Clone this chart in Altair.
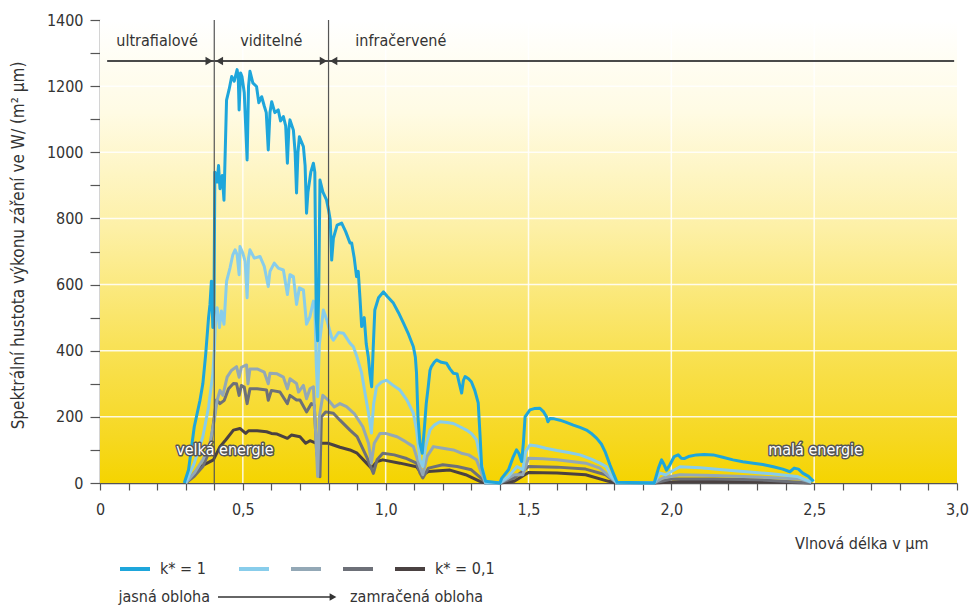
import altair as alt
import pandas as pd

FONT = "DejaVu Sans Condensed"
TXT = "#333333"

# ---------------- data ----------------
wl_k1 = [0.295, 0.31, 0.33, 0.35, 0.36, 0.37, 0.38, 0.385, 0.39, 0.395, 0.399, 0.402, 0.41, 0.415, 0.42,
         0.428, 0.434, 0.443, 0.452, 0.461, 0.47, 0.48, 0.484, 0.487, 0.492, 0.497, 0.505, 0.515, 0.52,
         0.525, 0.535, 0.548, 0.556, 0.566, 0.575, 0.582, 0.589, 0.595, 0.601, 0.612, 0.624, 0.632,
         0.642, 0.65, 0.656, 0.661, 0.665, 0.677, 0.683, 0.688, 0.693, 0.698, 0.712, 0.718, 0.723,
         0.728, 0.738, 0.747, 0.752, 0.757, 0.762, 0.766, 0.77, 0.78, 0.793, 0.80, 0.806, 0.811, 0.817,
         0.83, 0.846, 0.86, 0.875, 0.881, 0.89, 0.898, 0.904, 0.91, 0.916, 0.925, 0.932, 0.939, 0.945,
         0.951, 0.956, 0.962, 0.975, 0.992, 1.005, 1.027, 1.045, 1.062, 1.08, 1.097, 1.104, 1.108,
         1.113, 1.12, 1.128, 1.135, 1.142, 1.149, 1.155, 1.16, 1.17, 1.178, 1.195, 1.213, 1.225, 1.237,
         1.25, 1.258, 1.266, 1.272, 1.278, 1.29, 1.30, 1.312, 1.324, 1.33, 1.336, 1.35, 1.40, 1.406,
         1.43, 1.447, 1.458, 1.466, 1.476, 1.482, 1.488, 1.505, 1.52, 1.54, 1.553, 1.563, 1.568, 1.575,
         1.59, 1.61, 1.63, 1.657, 1.68, 1.703, 1.72, 1.739, 1.755, 1.768, 1.785, 1.797, 1.81, 1.94,
         1.955, 1.966, 1.975, 1.983, 1.995, 2.01, 2.024, 2.035, 2.045, 2.06, 2.088, 2.115, 2.147, 2.18,
         2.216, 2.25, 2.287, 2.32, 2.357, 2.39, 2.415, 2.43, 2.445, 2.46, 2.48, 2.498]
val_k1 = [0, 40, 170, 250, 300, 390, 500, 540, 610, 470, 520, 940, 910, 960, 890,
          930, 855, 1158, 1190, 1229, 1215, 1250, 1225, 1128, 1240, 1229, 1180, 977, 1200,
          1245, 1210, 1199, 1150, 1168, 1140, 1120, 1007, 1120, 1153, 1120, 1128, 1095,
          1108, 1080, 967, 1070, 1098, 1067, 1000, 877, 1000, 1047, 1017, 960, 816,
          880, 940, 967, 940, 500, 430, 600, 916, 880, 856, 826, 795, 674, 740,
          780, 786, 760, 726, 726, 680, 624, 640, 560, 473, 500, 420, 382, 330,
          291, 400, 523, 560, 578, 565, 544, 515, 484, 450, 412, 380, 332,
          200, 120, 90, 160, 240, 291, 340, 352, 365, 372, 365, 362, 345, 332,
          330, 300, 272, 310, 322, 315, 306, 280, 242, 150, 49, 5, 0, 14,
          40, 80, 100, 90, 65, 120, 200, 221, 225, 226, 215, 200, 185, 195,
          194, 190, 184, 175, 168, 160, 150, 135, 118, 95, 55, 29, 2, 0,
          45, 70, 55, 39, 55, 80, 85, 75, 74, 80, 85, 86, 85, 78,
          70, 64, 60, 56, 49, 42, 34, 45, 42, 30, 20, 5]

wl_k2 = [0.30, 0.33, 0.36, 0.38, 0.395, 0.40, 0.405, 0.41, 0.418, 0.425, 0.434, 0.443, 0.455, 0.465,
         0.473, 0.48, 0.487, 0.49, 0.50, 0.508, 0.515, 0.52, 0.525, 0.54, 0.56, 0.575, 0.589, 0.595,
         0.61, 0.624, 0.642, 0.656, 0.665, 0.677, 0.688, 0.698, 0.712, 0.723, 0.735, 0.747, 0.752,
         0.757, 0.762, 0.768, 0.782, 0.795, 0.811, 0.817, 0.835, 0.852, 0.875, 0.887, 0.90, 0.916,
         0.93, 0.94, 0.95, 0.958, 0.968, 0.985, 1.003, 1.025, 1.05, 1.075, 1.097, 1.108, 1.12, 1.13,
         1.14, 1.155, 1.17, 1.19, 1.215, 1.237, 1.26, 1.283, 1.30, 1.318, 1.33, 1.35, 1.40, 1.43,
         1.46, 1.48, 1.49, 1.505, 1.53, 1.56, 1.60, 1.64, 1.68, 1.72, 1.75, 1.773, 1.79, 1.81, 1.94,
         1.96, 1.98, 2.03, 2.10, 2.18, 2.263, 2.35, 2.44, 2.49]
val_k2 = [0, 60, 140, 230, 330, 400, 500, 530, 470, 520, 480, 610, 650, 690,
          705, 690, 630, 715, 695, 670, 560, 680, 705, 680, 685, 655, 594, 640,
          665, 650, 644, 570, 630, 624, 540, 590, 584, 480, 503, 550, 544,
          360, 261, 420, 523, 490, 440, 432, 455, 453, 423, 412, 380, 332,
          260, 211, 151, 240, 291, 305, 311, 296, 281, 250, 211, 160, 70, 50,
          110, 160, 175, 185, 183, 180, 170, 160, 150, 130, 80, 0, 0, 20,
          50, 40, 95, 115, 112, 105, 98, 92, 85, 72, 60, 49, 20, 0, 0,
          30, 25, 49, 46, 40, 34, 28, 20, 3]

wl_k3 = [0.30, 0.33, 0.36, 0.385, 0.40, 0.41, 0.42, 0.43, 0.445, 0.46, 0.478, 0.487, 0.495, 0.513,
         0.518, 0.525, 0.55, 0.575, 0.589, 0.595, 0.62, 0.642, 0.656, 0.665, 0.688, 0.695, 0.712,
         0.723, 0.735, 0.747, 0.755, 0.762, 0.768, 0.78, 0.80, 0.82, 0.84, 0.863, 0.89, 0.92, 0.94,
         0.95, 0.96, 0.98, 1.00, 1.04, 1.07, 1.097, 1.115, 1.13, 1.145, 1.167, 1.20, 1.237, 1.265,
         1.29, 1.318, 1.34, 1.35, 1.40, 1.45, 1.48, 1.50, 1.55, 1.60, 1.65, 1.70, 1.75, 1.79, 1.81,
         1.94, 1.97, 2.03, 2.15, 2.30, 2.45, 2.49]
val_k3 = [0, 30, 70, 120, 190, 250, 280, 265, 320, 340, 352, 320, 350, 357,
          300, 345, 345, 335, 300, 332, 330, 320, 285, 315, 301, 275, 295,
          255, 285, 291, 150, 20, 200, 265, 250, 230, 240, 231, 210, 170, 120,
          60, 120, 150, 150, 140, 125, 110, 60, 25, 80, 110, 105, 100, 90,
          85, 70, 20, 0, 0, 25, 25, 75, 73, 70, 65, 60, 45, 15, 0,
          0, 15, 25, 23, 18, 12, 2]

wl_k4 = [0.30, 0.33, 0.36, 0.385, 0.40, 0.408, 0.42, 0.435, 0.45, 0.467, 0.478, 0.487, 0.495, 0.505,
         0.515, 0.525, 0.55, 0.583, 0.589, 0.60, 0.63, 0.656, 0.665, 0.688, 0.70, 0.723, 0.74, 0.75,
         0.758, 0.77, 0.775, 0.79, 0.817, 0.84, 0.875, 0.90, 0.933, 0.957, 0.97, 0.99, 1.03, 1.07,
         1.108, 1.12, 1.13, 1.15, 1.20, 1.25, 1.30, 1.34, 1.35, 1.40, 1.45, 1.50, 1.60, 1.70, 1.77,
         1.81, 1.94, 2.00, 2.15, 2.30, 2.49]
val_k4 = [0, 20, 50, 100, 200, 251, 240, 250, 285, 301, 300, 265, 295, 290,
          240, 285, 285, 281, 250, 280, 275, 240, 265, 251, 251, 215, 240, 235,
          100, 19, 200, 215, 211, 190, 160, 140, 80, 29, 70, 90, 85, 75,
          60, 30, 15, 45, 55, 50, 40, 10, 0, 0, 15, 50, 48, 42, 25,
          0, 0, 12, 12, 10, 0]

wl_k01 = [0.30, 0.35, 0.397, 0.42, 0.44, 0.467, 0.49, 0.51, 0.52, 0.55, 0.583, 0.60, 0.62, 0.656,
          0.67, 0.70, 0.72, 0.735, 0.758, 0.762, 0.768, 0.80, 0.817, 0.84, 0.875, 0.90, 0.933, 0.95,
          0.97, 0.99, 1.05, 1.108, 1.13, 1.15, 1.225, 1.28, 1.33, 1.35, 1.40, 1.45, 1.50, 1.60, 1.70,
          1.78, 1.81, 1.94, 2.05, 2.30, 2.49]
val_k01 = [0, 49, 70, 110, 130, 160, 165, 150, 158, 158, 155, 150, 148, 135,
           145, 140, 120, 128, 120, 80, 120, 120, 115, 108, 100, 90, 60, 45,
           65, 70, 60, 49, 25, 35, 39, 25, 5, 0, 0, 5, 32, 30, 25,
           5, 0, 0, 5, 4, 0]

series_names = ["k1", "k2", "k3", "k4", "k01"]
series_colors = ["#1ea6db", "#88cdeb", "#93a8b6", "#6d7078", "#4a4141"]
series_wl = [wl_k1, wl_k2, wl_k3, wl_k4, wl_k01]
series_val = [val_k1, val_k2, val_k3, val_k4, val_k01]

region_labels = ["ultrafialové", "viditelné", "infračervené"]
region_x = [0.2, 0.6, 1.053]
region_y = [1335, 1335, 1335]
boundaries = [0.4, 0.8]
arrow_level = 1276
arrow_start, arrow_end = 0.025, 2.99
head_x = [0.382, 0.418, 0.782, 0.818]
head_shape = ["triangle-right", "triangle-left", "triangle-right", "triangle-left"]

energy_labels = ["velká energie", "malá energie"]
energy_x = [0.437, 2.505]
energy_y = [100, 100]

x_grid = [0.5, 1.0, 1.5, 2.0, 2.5]
y_grid = [200, 400, 600, 800, 1000, 1200]
x_ticks = [round(i / 10, 1) for i in range(0, 31)]
y_ticks = list(range(0, 1401, 100))

# ---------------- build ----------------
rows = []
for name, wl, vals in zip(series_names, series_wl, series_val):
    for w, v in zip(wl, vals):
        rows.append({"series": name, "wl": w, "val": v})
df = pd.DataFrame(rows)

W, H = 857, 463
xs = alt.Scale(domain=[0, 3], nice=False, zero=False)
ys = alt.Scale(domain=[0, 1400], nice=False)

xaxis = alt.Axis(
    values=x_ticks, grid=False, domainColor="#555555", domainWidth=1.5,
    tickColor="#555555", tickSize=7, tickWidth=1.2,
    labelExpr="abs(datum.value*2 - round(datum.value*2)) < 0.001 ? (datum.value == 0 ? '0' : replace(format(datum.value, '.1f'), '.', ',')) : ''",
    labelFont=FONT, labelFontSize=16, labelColor=TXT, labelPadding=11, labelFlush=False,
    labelOverlap=False,
    title="Vlnová délka v µm", titleFont=FONT, titleFontSize=16, titleFontWeight="normal",
    titleColor=TXT, titleX=828, titleY=60, titleAlign="right", titleBaseline="middle",
)
yaxis = alt.Axis(
    values=y_ticks, grid=False, domainColor="#555555", domainWidth=1.5,
    tickColor="#555555", tickSize=10, tickWidth=1.2,
    labelExpr="datum.value % 200 == 0 ? format(datum.value, 'd') : ''",
    labelFont=FONT, labelFontSize=16, labelColor=TXT, labelPadding=7, labelOverlap=False,
    title="Spektrální hustota výkonu záření ve W/ (m² µm)", titleFont=FONT, titleFontSize=17,
    titleFontWeight="normal", titleColor=TXT, titleAngle=270, titleX=-82, titleY=225,
    titleAlign="center", titleBaseline="middle",
)

bg_df = pd.DataFrame({"x": [0.0], "x2": [3.0], "y": [0.0], "y2": [1400.0]})
gradient = alt.LinearGradient(
    gradient="linear",
    stops=[
        alt.GradientStop(color="#ffffff", offset=0),
        alt.GradientStop(color="#fffbe4", offset=0.2),
        alt.GradientStop(color="#fdf0a6", offset=0.45),
        alt.GradientStop(color="#f9e258", offset=0.7),
        alt.GradientStop(color="#f6d822", offset=0.9),
        alt.GradientStop(color="#f5d400", offset=1),
    ],
    x1=0, x2=0, y1=0, y2=1,
)
bg = alt.Chart(bg_df).mark_rect(color=gradient).encode(
    x=alt.X("x:Q", scale=xs, axis=xaxis), x2="x2:Q",
    y=alt.Y("y:Q", scale=ys, axis=yaxis), y2="y2:Q",
)

vgrid = alt.Chart(pd.DataFrame({"x": x_grid})).mark_rule(color="white", strokeWidth=1.5, opacity=0.85).encode(
    x=alt.X("x:Q", scale=xs, axis=xaxis),
)
hgrid = alt.Chart(pd.DataFrame({"y": y_grid})).mark_rule(color="white", strokeWidth=1.5, opacity=0.85).encode(
    y=alt.Y("y:Q", scale=ys, axis=yaxis),
)

color_enc = alt.Color(
    "series:N",
    scale=alt.Scale(domain=series_names, range=series_colors),
    legend=alt.Legend(
        orient="none", legendX=18, legendY=532, direction="horizontal", title=None,
        symbolType="stroke", symbolSize=900, symbolStrokeWidth=4,
        labelExpr="datum.label == 'k1' ? 'k* = 1\u2800\u2800' : (datum.label == 'k01' ? 'k* = 0,1' : '')",
        labelFont=FONT, labelFontSize=16, labelColor=TXT, labelOffset=8, columnPadding=4,
    ),
)

line_layers = []
for name in ["k01", "k4", "k3", "k2", "k1"]:
    line_layers.append(
        alt.Chart(df[df["series"] == name]).mark_line(strokeWidth=3, strokeJoin="round").encode(
            x=alt.X("wl:Q", scale=xs, axis=xaxis),
            y=alt.Y("val:Q", scale=ys, axis=yaxis),
            color=color_enc,
        )
    )

vlines = alt.Chart(pd.DataFrame({"x": boundaries, "y": [0, 0], "y2": [1400, 1400]})).mark_rule(
    color="#555555", strokeWidth=1.2).encode(
    x=alt.X("x:Q", scale=xs, axis=xaxis), y=alt.Y("y:Q", scale=ys, axis=yaxis), y2="y2:Q",
)
arrow_line = alt.Chart(pd.DataFrame({"x": [arrow_start], "x2": [arrow_end], "y": [arrow_level]})).mark_rule(
    color="#4a4a4a", strokeWidth=2).encode(
    x=alt.X("x:Q", scale=xs, axis=xaxis), x2="x2:Q", y=alt.Y("y:Q", scale=ys, axis=yaxis),
)
heads = alt.Chart(pd.DataFrame({"x": head_x, "y": [arrow_level] * 4, "shape": head_shape})).mark_point(
    filled=True, size=70, color="#3a3a3a", opacity=1).encode(
    x=alt.X("x:Q", scale=xs, axis=xaxis), y=alt.Y("y:Q", scale=ys, axis=yaxis),
    shape=alt.Shape("shape:N", scale=None, legend=None),
)
region_text = alt.Chart(pd.DataFrame({"x": region_x, "y": region_y, "t": region_labels})).mark_text(
    font=FONT, fontSize=16, color=TXT, align="center", baseline="middle").encode(
    x=alt.X("x:Q", scale=xs, axis=xaxis), y=alt.Y("y:Q", scale=ys, axis=yaxis), text="t:N",
)
energy_df = pd.DataFrame({"x": energy_x, "y": energy_y, "t": energy_labels})
energy_halo = alt.Chart(energy_df).mark_text(
    font=FONT, fontSize=16, fill="#555555", stroke="#555555", strokeWidth=3, strokeJoin="round",
    align="center", baseline="middle").encode(
    x=alt.X("x:Q", scale=xs, axis=xaxis), y=alt.Y("y:Q", scale=ys, axis=yaxis), text="t:N",
)
energy_text = alt.Chart(energy_df).mark_text(
    font=FONT, fontSize=16, color="white", align="center", baseline="middle").encode(
    x=alt.X("x:Q", scale=xs, axis=xaxis), y=alt.Y("y:Q", scale=ys, axis=yaxis), text="t:N",
)

# caption under the legend: clear sky -> overcast sky
cap_left = alt.Chart(pd.DataFrame({"t": ["jasná obloha"]})).mark_text(
    font=FONT, fontSize=16, color=TXT, align="right", baseline="middle").encode(
    x=alt.value(110), y=alt.value(577), text="t:N")
cap_right = alt.Chart(pd.DataFrame({"t": ["zamračená obloha"]})).mark_text(
    font=FONT, fontSize=16, color=TXT, align="left", baseline="middle").encode(
    x=alt.value(250), y=alt.value(577), text="t:N")
cap_arrow = alt.Chart(pd.DataFrame({"a": [0]})).mark_rule(color="#333333", strokeWidth=1.3).encode(
    x=alt.value(118), x2=alt.value(232), y=alt.value(577))
cap_head = alt.Chart(pd.DataFrame({"a": [0]})).mark_point(
    shape="triangle-right", filled=True, size=60, color="#333333", opacity=1).encode(
    x=alt.value(233), y=alt.value(577))

chart = alt.layer(
    bg, vgrid, hgrid, *line_layers, vlines, arrow_line, heads, region_text,
    energy_halo, energy_text, cap_left, cap_right, cap_arrow, cap_head,
).properties(
    width=W, height=H,
    autosize=alt.AutoSizeParams(type="none"),
    padding={"left": 100, "top": 20, "right": 19, "bottom": 126},
    background="white",
).configure_view(stroke=None)

chart.save("out.html", embed_options={"renderer": "svg", "actions": False})
